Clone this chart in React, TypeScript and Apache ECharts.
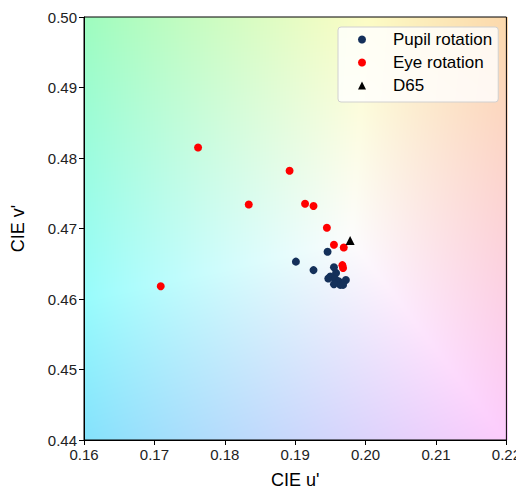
import React, { useEffect, useRef } from "react";
import * as echarts from "echarts";

const pupilU = [0.1946, 0.1901, 0.1926, 0.1955, 0.1958, 0.1950, 0.1947, 0.1957, 0.1962, 0.1964, 0.1972, 0.1955, 0.1968];
const pupilV = [0.4667, 0.4653, 0.4641, 0.4645, 0.4637, 0.4632, 0.4629, 0.4628, 0.4625, 0.4620, 0.4627, 0.4621, 0.4620];
const eyeU = [0.1762, 0.1892, 0.1834, 0.1914, 0.1926, 0.1945, 0.1955, 0.1969, 0.1967, 0.1968, 0.1709];
const eyeV = [0.4815, 0.4782, 0.4734, 0.4735, 0.4732, 0.4701, 0.4677, 0.4673, 0.4648, 0.4644, 0.4618];
const d65U = [0.1978];
const d65V = [0.4683];
const xTicks = ["0.16", "0.17", "0.18", "0.19", "0.20", "0.21", "0.22"];
const yTicks = ["0.44", "0.45", "0.46", "0.47", "0.48", "0.49", "0.50"];

const X_MIN = 0.16, X_MAX = 0.22, Y_MIN = 0.44, Y_MAX = 0.5;
const GL = 84, GT = 17, GW = 424, GH = 423;

function gam(c: number) {
  return c <= 0.0031308 ? 12.92 * c : 1.055 * Math.pow(c, 1 / 2.4) - 0.055;
}

function makeBackground(): string {
  const cv = document.createElement("canvas");
  cv.width = GW;
  cv.height = GH;
  const ctx = cv.getContext("2d");
  if (!ctx) return "";
  const img = ctx.createImageData(GW, GH);
  for (let j = 0; j < GH; j++) {
    const v = Y_MAX - ((j + 0.5) / GH) * (Y_MAX - Y_MIN);
    for (let i = 0; i < GW; i++) {
      const u = X_MIN + ((i + 0.5) / GW) * (X_MAX - X_MIN);
      const d = 6 * u - 16 * v + 12;
      const x = (9 * u) / d;
      const y = (4 * v) / d;
      const X = x / y, Y = 1, Z = (1 - x - y) / y;
      let r = 3.2406 * X - 1.5372 * Y - 0.4986 * Z;
      let g = -0.9689 * X + 1.8758 * Y + 0.0415 * Z;
      let b = 0.0557 * X - 0.204 * Y + 1.057 * Z;
      r = Math.max(r, 0); g = Math.max(g, 0); b = Math.max(b, 0);
      const m = Math.max(r, g, b);
      const k = (i + j * GW) * 4;
      img.data[k] = Math.round(gam(r / m) * 255 * 0.99);
      img.data[k + 1] = Math.round(gam(g / m) * 255 * 0.99);
      img.data[k + 2] = Math.round(gam(b / m) * 255 * 0.99);
      img.data[k + 3] = 255;
    }
  }
  ctx.putImageData(img, 0, 0);
  return cv.toDataURL();
}

const zip = (a: number[], b: number[]) => a.map((x, i) => [x, b[i]]);

export default function App() {
  const ref = useRef<HTMLDivElement>(null);
  useEffect(() => {
    if (!ref.current) return;
    const chart = echarts.init(ref.current, undefined, { renderer: "svg" });
    const bg = makeBackground();
    const font = "'Liberation Sans', Arial, sans-serif";
    chart.setOption({
      animation: false,
      textStyle: { fontFamily: font },
      graphic: [
        {
          type: "image",
          left: GL,
          top: GT,
          z: -10,
          style: { image: bg, width: GW, height: GH },
        },
      ],
      grid: {
        left: GL,
        top: GT,
        width: GW,
        height: GH,
        show: true,
        borderColor: "#000",
        borderWidth: 1,
        backgroundColor: "transparent",
      },
      legend: {
        orient: "vertical",
        left: 338,
        top: 27,
        padding: [4, 6, 8, 20],
        itemWidth: 8,
        itemHeight: 8,
        itemGap: 6,
        backgroundColor: "rgba(255,255,255,0.8)",
        borderColor: "#d0d0d0",
        borderWidth: 1,
        borderRadius: 3,
        textStyle: { fontSize: 17, color: "#000", padding: [0, 0, 0, 22], lineHeight: 17, fontFamily: font },
        data: [
          { name: "Pupil rotation", icon: "circle" },
          { name: "Eye rotation", icon: "circle" },
          { name: "D65", icon: "triangle" },
        ],
      },
      xAxis: {
        type: "value",
        min: X_MIN,
        max: X_MAX,
        interval: 0.01,
        name: "CIE u'",
        nameLocation: "middle",
        nameGap: 31,
        nameTextStyle: { fontSize: 18, color: "#000", fontFamily: font },
        axisLine: { show: true, onZero: false, lineStyle: { color: "#000" } },
        axisTick: { show: true, length: 5, lineStyle: { color: "#000" } },
        axisLabel: {
          fontSize: 15,
          color: "#222",
          margin: 7,
          formatter: (val: number) => xTicks[Math.round((val - X_MIN) / 0.01)] ?? "",
        },
        splitLine: { show: false },
      },
      yAxis: {
        type: "value",
        min: Y_MIN,
        max: Y_MAX,
        interval: 0.01,
        name: "CIE v'",
        nameLocation: "middle",
        nameGap: 57,
        nameTextStyle: { fontSize: 18, color: "#000", fontFamily: font },
        axisLine: { show: true, onZero: false, lineStyle: { color: "#000" } },
        axisTick: { show: true, length: 5, lineStyle: { color: "#000" } },
        axisLabel: {
          fontSize: 15,
          color: "#222",
          margin: 7,
          formatter: (val: number) => yTicks[Math.round((val - Y_MIN) / 0.01)] ?? "",
        },
        splitLine: { show: false },
      },
      series: [
        {
          name: "Pupil rotation",
          type: "scatter",
          symbol: "circle",
          symbolSize: 8,
          itemStyle: { color: "#14305a", opacity: 1 },
          data: zip(pupilU, pupilV),
        },
        {
          name: "Eye rotation",
          type: "scatter",
          symbol: "circle",
          symbolSize: 8,
          itemStyle: { color: "#ff0000", opacity: 1 },
          data: zip(eyeU, eyeV),
        },
        {
          name: "D65",
          type: "scatter",
          symbol: "triangle",
          symbolSize: 9,
          itemStyle: { color: "#000", opacity: 1 },
          data: zip(d65U, d65V),
        },
      ],
    });
    return () => chart.dispose();
  }, []);
  return <div ref={ref} style={{ width: 524, height: 494, margin: -8 }} />;
}
